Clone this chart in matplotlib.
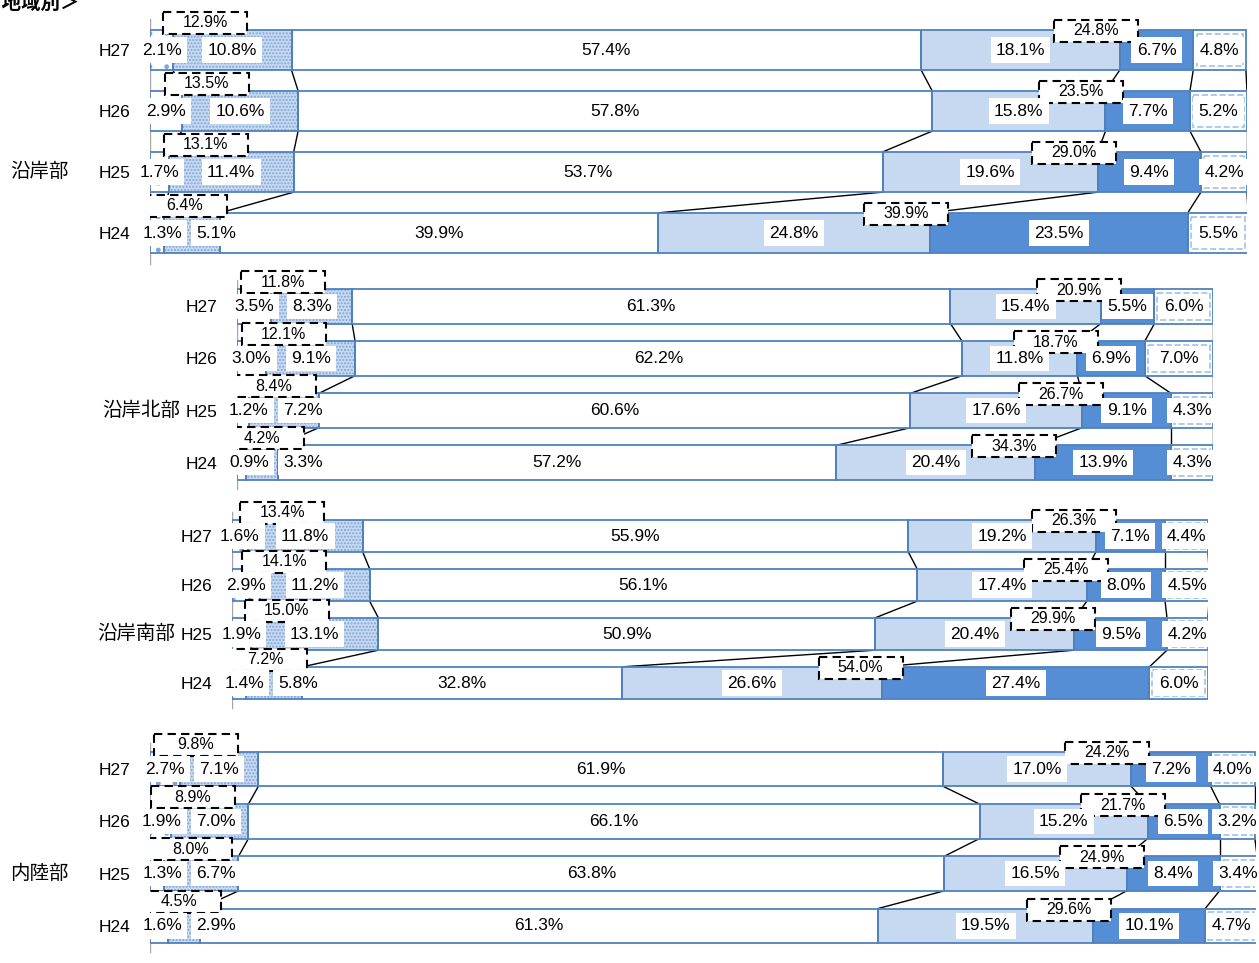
import matplotlib.pyplot as plt
from matplotlib.patches import Rectangle

plt.rcParams['font.family'] = ['Liberation Sans', 'Noto Sans CJK JP']
plt.rcParams['hatch.linewidth'] = 1.0

years = ['H27', 'H26', 'H25', 'H24']
regions = ['沿岸部', '沿岸北部', '沿岸南部', '内陸部']

# six shares per year (H27..H24), left to right
coast = [[2.1, 10.8, 57.4, 18.1, 6.7, 4.8],
         [2.9, 10.6, 57.8, 15.8, 7.7, 5.2],
         [1.7, 11.4, 53.7, 19.6, 9.4, 4.2],
         [1.3, 5.1, 39.9, 24.8, 23.5, 5.5]]
coast_north = [[3.5, 8.3, 61.3, 15.4, 5.5, 6.0],
               [3.0, 9.1, 62.2, 11.8, 6.9, 7.0],
               [1.2, 7.2, 60.6, 17.6, 9.1, 4.3],
               [0.9, 3.3, 57.2, 20.4, 13.9, 4.3]]
coast_south = [[1.6, 11.8, 55.9, 19.2, 7.1, 4.4],
               [2.9, 11.2, 56.1, 17.4, 8.0, 4.5],
               [1.9, 13.1, 50.9, 20.4, 9.5, 4.2],
               [1.4, 5.8, 32.8, 26.6, 27.4, 6.0]]
inland = [[2.7, 7.1, 61.9, 17.0, 7.2, 4.0],
          [1.9, 7.0, 66.1, 15.2, 6.5, 3.2],
          [1.3, 6.7, 63.8, 16.5, 8.4, 3.4],
          [1.6, 2.9, 61.3, 19.5, 10.1, 4.7]]

# totals shown in the dashed boxes
coast_low = [12.9, 13.5, 13.1, 6.4]
coast_high = [24.8, 23.5, 29.0, 39.9]
north_low = [11.8, 12.1, 8.4, 4.2]
north_high = [20.9, 18.7, 26.7, 34.3]
south_low = [13.4, 14.1, 15.0, 7.2]
south_high = [26.3, 25.4, 29.9, 54.0]
inland_low = [9.8, 8.9, 8.0, 4.5]
inland_high = [24.2, 21.7, 24.9, 29.6]

values = [coast, coast_north, coast_south, inland]
lows = [coast_low, north_low, south_low, inland_low]
highs = [coast_high, north_high, south_high, inland_high]

# layout in pixels: bar left, bar right, first row centre, row pitch
frames = [(150, 1247, 50, 61), (237, 1213, 306.5, 52),
          (232, 1208, 536, 49), (150, 1256, 769, 52.3)]
name_pos = [(10, 'left'), (180, 'right'), (175, 'right'), (10, 'left')]

faces = ['white', '#C9DAF0', 'white', '#C6D9F0', '#558ED5', 'white']
hatches = ['.', '.....', None, None, None, None]
hatch_col = '#7FA6DA'
outline = '#4F81BD'

W, H = 1259, 963
fig = plt.figure(figsize=(W / 100, H / 100), dpi=100)

BAR_H = 0.66
MARGIN = 0.8

for g in range(4):
    left, right, c0, pitch = frames[g]
    top_px = c0 - (0.5 + MARGIN) * pitch
    bot_px = c0 + (3.5 + MARGIN) * pitch
    ax = fig.add_axes([left / W, 1 - bot_px / H, (right - left) / W, (bot_px - top_px) / H])
    ax.set_xlim(0, 100)
    ax.set_ylim(3.5 + MARGIN, -0.5 - MARGIN)
    ax.patch.set_visible(False)
    for s in ax.spines.values():
        s.set_visible(False)
    ax.set_xticks([])
    ax.set_yticks(range(4))
    ax.set_yticklabels(years, fontsize=12.5)
    ax.tick_params(axis='y', length=0, pad=14)
    ppp = (right - left) / 100

    rows = values[g]
    ypos = list(range(4))
    cums = []
    for k in range(6):
        lefts = [sum(r[:k]) for r in rows]
        widths = [r[k] for r in rows]
        cums.append([l + w for l, w in zip(lefts, widths)])
        if hatches[k]:
            ax.barh(ypos, widths, left=lefts, height=BAR_H, color=faces[k],
                    hatch=hatches[k], edgecolor=hatch_col, linewidth=0, zorder=2)
        else:
            ax.barh(ypos, widths, left=lefts, height=BAR_H, color=faces[k],
                    linewidth=0, zorder=2)
        ax.barh(ypos, widths, left=lefts, height=BAR_H, fill=False,
                edgecolor=outline, linewidth=1.3, zorder=3)
        if k == 5:
            ax.barh(ypos, [w - 0.6 for w in widths], left=[l + 0.3 for l in lefts],
                    height=BAR_H * 0.8, fill=False, edgecolor='#9DC3E6',
                    linestyle='--', linewidth=1.2, zorder=3)

    # series lines between bars
    for k in range(6):
        for i in range(3):
            ax.plot([cums[k][i], cums[k][i + 1]], [i + BAR_H / 2, i + 1 - BAR_H / 2],
                    color='black', lw=1, zorder=1)
    ax.plot([0, 0], [-0.5, 3.5], color='#A6A6A6', lw=1, zorder=1)

    gap = 54 / ppp
    for i, r in enumerate(rows):
        xs = [sum(r[:k]) + r[k] / 2 for k in range(6)]
        if xs[1] - xs[0] < gap:
            mid = (xs[0] + xs[1]) / 2
            xs[0] = max(mid - gap / 2, 12 / ppp)
            xs[1] = xs[0] + gap
        if xs[5] - xs[4] < gap:
            xs[4] = xs[5] - gap
        for k in range(6):
            ax.text(xs[k], i, f'{r[k]:.1f}%', ha='center', va='center', fontsize=12.5,
                    bbox=dict(boxstyle='square,pad=0.3', fc='white', ec='none'), zorder=6.5)

    bw = 84 / ppp
    bh = 22 / pitch
    for i in range(4):
        lo, hi = lows[g][i], highs[g][i]
        boxes = [(0.28 * lo + 1.4, i - BAR_H / 2 - 7 / pitch, lo),
                 (sum(rows[i][:4]) - 2.2, i - BAR_H / 2 + 1 / pitch, hi)]
        for cx, cy, val in boxes:
            ax.add_patch(Rectangle((cx - bw / 2, cy - bh / 2), bw, bh, facecolor='white',
                                   edgecolor='black', linestyle=(0, (4, 2.5)),
                                   linewidth=1.5, zorder=6))
            ax.text(cx, cy, f'{val:.1f}%', ha='center', va='center', fontsize=11.5, zorder=7)

    nx, ha = name_pos[g]
    fig.text(nx / W, 1 - (c0 + 2 * pitch) / H, regions[g], ha=ha, va='center', fontsize=14)

fig.text(80 / W, 1 - 3 / H, '＜地域別＞', ha='right', va='center', fontsize=14, fontweight='bold')

fig.savefig('out.png', dpi=100)
